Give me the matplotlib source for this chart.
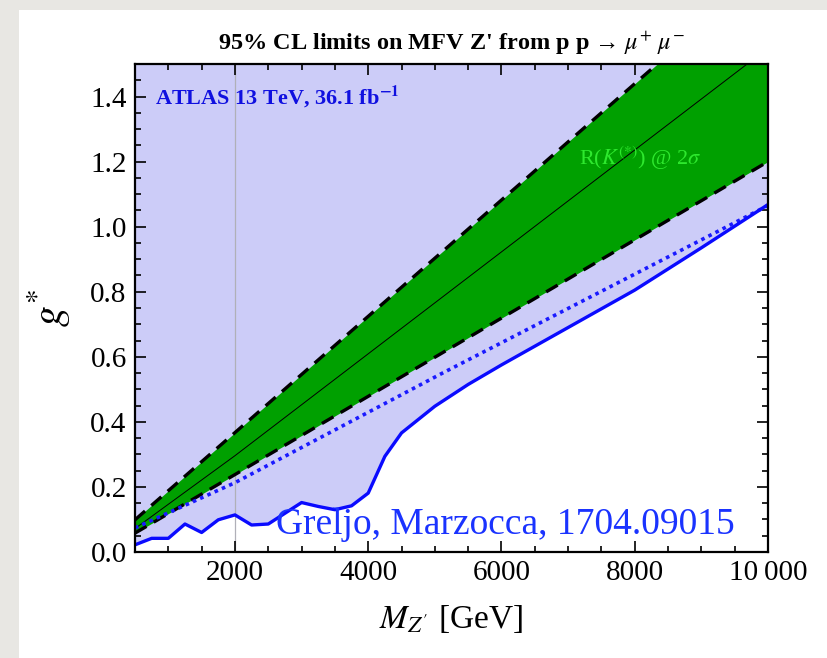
import matplotlib
matplotlib.use("Agg")
import matplotlib.pyplot as plt
from matplotlib.patches import Rectangle
from matplotlib.ticker import MultipleLocator, FixedLocator
import numpy as np

plt.rcParams['font.family'] = ['Liberation Serif', 'DejaVu Serif']
plt.rcParams['mathtext.fontset'] = 'stix'

# ---- data ----
band_mass = [500, 2000, 5078, 10000]
band_upper = [0.099, 0.367, 0.917, 1.797]
band_center = [0.072, 0.296, 0.778, 1.549]
band_lower = [0.058, 0.238, 0.608, 1.200]

expected_mass = [500, 2000, 5078, 10000]
expected_g = [0.074, 0.213, 0.546, 1.065]

limit_mass = [500, 750, 1000, 1250, 1500, 1750, 2000, 2250, 2500, 3000, 3250,
              3500, 3750, 4000, 4250, 4500, 4750, 5000, 5500, 6000, 7000,
              8000, 9000, 10000]
limit_g = [0.022, 0.042, 0.042, 0.086, 0.060, 0.099, 0.114, 0.083, 0.086,
           0.152, 0.140, 0.130, 0.142, 0.181, 0.294, 0.366, 0.407, 0.448,
           0.515, 0.575, 0.690, 0.805, 0.935, 1.068]

xtick_vals = [2000, 4000, 6000, 8000, 10000]
xtick_labels = ["2000", "4000", "6000", "8000", "10\u2009000"]
ytick_vals = [0.0, 0.2, 0.4, 0.6, 0.8, 1.0, 1.2, 1.4]
ytick_labels = ["0.0", "0.2", "0.4", "0.6", "0.8", "1.0", "1.2", "1.4"]

# ---- figure ----
fig = plt.figure(figsize=(8.28, 6.58), dpi=100)
fig.patch.set_facecolor('#e8e7e3')
fig.patches.append(Rectangle((19/828, 0), 1 - 19/828, 1 - 10/658,
                             transform=fig.transFigure, facecolor='white',
                             edgecolor='none', zorder=-10))

ax = fig.add_axes([135/828, 1 - 552/658, (768 - 135)/828, (552 - 64)/658])
ax.set_zorder(1)
ax.set_facecolor('white')
ax.set_xlim(500, 10000)
ax.set_ylim(0, 1.5)

# excluded region (light blue)
ax.fill_between(limit_mass, limit_g, 1.5, color='#ccccf8', lw=0, zorder=1)
# grid line at 2000
ax.axvline(2000, color='#b0b0b8', lw=0.9, zorder=1.5)
# green band
ax.fill_between(band_mass, band_lower, band_upper, color='#00a000', lw=0, zorder=2)
ax.plot(band_mass, band_upper, color='black', lw=2.4, ls=(0, (4, 2.5)), zorder=3)
ax.plot(band_mass, band_lower, color='black', lw=2.4, ls=(0, (4, 2.5)), zorder=3)
ax.plot(band_mass, band_center, color='black', lw=0.7, zorder=3)
# expected and observed limits
ax.plot(expected_mass, expected_g, color='#1a1aff', lw=2.6, ls=(0, (1.0, 1.2)), zorder=4)
ax.plot(limit_mass, limit_g, color='#0a0aff', lw=2.4, zorder=4)

# ticks
ax.xaxis.set_major_locator(FixedLocator(xtick_vals))
ax.set_xticklabels(xtick_labels)
ax.xaxis.set_minor_locator(MultipleLocator(500))
ax.yaxis.set_major_locator(FixedLocator(ytick_vals))
ax.set_yticklabels(ytick_labels)
ax.yaxis.set_minor_locator(MultipleLocator(0.05))
ax.tick_params(which='both', direction='in', top=True, right=True,
               width=1.2, labelsize=21, pad=6)
ax.tick_params(which='major', length=8)
ax.tick_params(which='minor', length=4.5)
for s in ax.spines.values():
    s.set_linewidth(1.6)
    s.set_zorder(6)

ax.set_xlabel(r"$M_{Z'}$ [GeV]", fontsize=24, labelpad=12)
ax.set_ylabel(r"$g^{*}$", fontsize=30, labelpad=12)

ax.set_title("95% CL limits on MFV Z' from p p \u2192 $\\mu^{+}$ $\\mu^{-}$",
             fontsize=17.5, fontweight='bold', pad=10)

ax.text(800, 1.40, r"ATLAS 13 TeV, 36.1 fb$^{\mathbf{-1}}$", color='#1010e0',
        fontsize=16, fontweight='bold', va='center', ha='left', zorder=5)
ax.text(8081, 1.21, r"R($K^{(*)}$) @ 2$\sigma$", color='#2ee82e', fontsize=16,
        ha='center', va='center', zorder=5)
ax.text(6054, 0.083, "Greljo, Marzocca, 1704.09015", color='#1a33ff',
        fontsize=27, ha='center', va='center', zorder=5)

fig.savefig("out.png", dpi=100, facecolor=fig.get_facecolor())
